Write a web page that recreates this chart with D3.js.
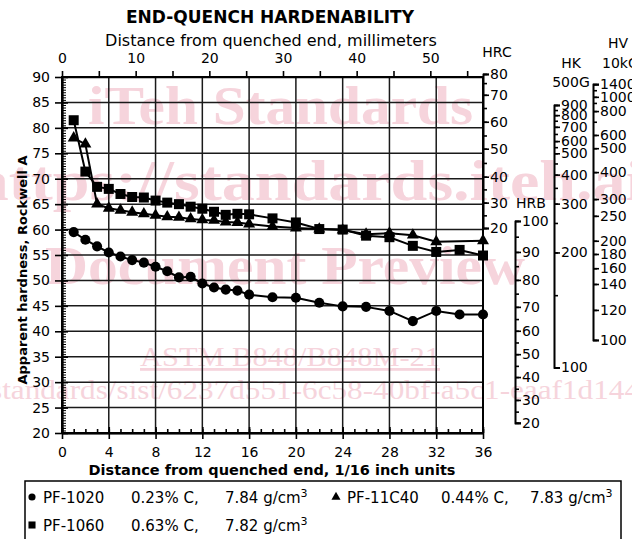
<!DOCTYPE html>
<html>
<head>
<meta charset="utf-8">
<script src="https://cdn.jsdelivr.net/npm/d3@7"></script>
<style>
  body { margin: 0; background: #fff; }
  svg { display: block; font-family: 'DejaVu Sans', Verdana, sans-serif; }
</style>
</head>
<body>
<script>
// distances in 1/16 inch, hardness in HRA
const distances = [1, 2, 3, 4, 5, 6, 7, 8, 9, 10, 11, 12, 13, 14, 15, 16, 18, 20, 22, 24, 26, 28, 30, 32, 34, 36];
const pf1020 = [59.5, 58.0, 56.7, 55.5, 54.7, 54.0, 53.5, 52.7, 51.8, 50.6, 50.7, 49.4, 48.6, 48.2, 48.0, 47.2, 46.7, 46.6, 45.6, 44.9, 44.8, 44.0, 42.0, 44.0, 43.3, 43.3];
const pf1060 = [81.5, 71.4, 68.4, 68.0, 67.0, 66.4, 66.3, 65.7, 65.3, 65.0, 64.5, 64.1, 63.5, 62.9, 63.1, 63.0, 62.2, 61.4, 60.1, 60.0, 58.8, 58.5, 56.8, 55.6, 56.0, 54.9];
const distances11C40 = [1, 2, 3, 4, 5, 6, 7, 8, 9, 10, 11, 12, 13, 14, 15, 16, 18, 20, 22, 24, 26, 28, 30, 32, 36];
const pf11c40 = [78.0, 76.8, 65.0, 64.2, 63.8, 63.4, 63.1, 62.8, 62.5, 62.4, 62.1, 61.9, 61.8, 61.5, 61.4, 61.1, 60.6, 60.3, 60.1, 59.9, 59.1, 59.3, 58.9, 57.6, 57.8];

// legend
const legendNames = ['PF-1020', 'PF-11C40', 'PF-1060'];
const legendCarbon = ['0.23% C,', '0.44% C,', '0.63% C,'];
const legendDensity = ['7.84', '7.83', '7.82'];

// conversion scales: tick values and the HRA level they sit at
const hrcTicks = [80, 75, 70, 65, 60, 55, 50, 45, 40, 35, 30, 25, 20];
const hrcAsHRA = [90.6, 88.8, 86.5, 83.9, 81.2, 78.5, 75.9, 73.1, 70.4, 67.9, 65.3, 62.8, 60.3];
const hrbTicks = [100, 95, 90, 85, 80, 75, 70, 65, 60, 55, 50, 45, 40, 35, 30, 25, 20];
const hrbAsHRA = [61.7, 58.6, 55.6, 52.8, 50.1, 47.4, 44.8, 42.4, 40.1, 37.8, 35.5, 33.2, 31.0, 28.7, 26.5, 24.2, 22.0];
const hkTicks = [900, 850, 800, 750, 700, 650, 600, 550, 500, 450, 400, 350, 300, 250, 200, 150, 100];
const hkAsHRA = [84.5, 83.5, 82.5, 81.4, 80.2, 78.8, 77.4, 76.2, 75.0, 73.0, 70.8, 68.2, 65.1, 61.3, 55.5, 47.1, 32.9];
const hkLabels = [900, 800, 700, 600, 500, 400, 300, 200, 100];
const hvTicks = [1400, 1200, 1000, 900, 800, 700, 600, 500, 400, 300, 250, 200, 180, 160, 140, 120, 100];
const hvAsHRA = [88.6, 87.4, 86.1, 84.9, 83.3, 81.2, 78.6, 76.0, 71.3, 66.0, 62.7, 57.8, 55.2, 52.4, 49.3, 44.2, 38.3];
const hvLabels = [1400, 1000, 800, 600, 500, 400, 300, 250, 200, 180, 160, 140, 120, 100];

const width = 632;
const height = 539;
const plot = { left: 62, right: 483, top: 77, bottom: 433 };

const svg = d3.select('body').append('svg')
  .attr('width', width)
  .attr('height', height);

const x = d3.scaleLinear().domain([0, 36]).range([plot.left, plot.right]);
const y = d3.scaleLinear().domain([20, 90]).range([plot.bottom, plot.top]);
const xmm = d3.scaleLinear().domain([0, 36 * 25.4 / 16]).range([plot.left, plot.right]);

// watermark from the source document
const wm = svg.append('g')
  .attr('fill', '#f6d4dc')
  .attr('font-family', "'Liberation Serif', 'DejaVu Serif', serif");
wm.append('text').attr('x', 88).attr('y', 124).attr('font-size', 54).attr('font-weight', 'bold')
  .attr('textLength', 385).attr('lengthAdjust', 'spacingAndGlyphs').text('iTeh Standards');
wm.append('text').attr('x', -28).attr('y', 200).attr('font-size', 56).attr('font-weight', 'bold')
  .attr('textLength', 672).attr('lengthAdjust', 'spacingAndGlyphs').text('https://standards.iteh.ai');
wm.append('text').attr('x', 45).attr('y', 284).attr('font-size', 54).attr('font-weight', 'bold')
  .attr('textLength', 480).attr('lengthAdjust', 'spacingAndGlyphs').text('Document Preview');
wm.append('text').attr('x', 140).attr('y', 366).attr('font-size', 28)
  .attr('text-decoration', 'underline')
  .attr('textLength', 300).attr('lengthAdjust', 'spacingAndGlyphs').text('ASTM B848/B848M-21');
wm.append('text').attr('x', -10).attr('y', 399).attr('font-size', 28)
  .attr('textLength', 650).attr('lengthAdjust', 'spacingAndGlyphs')
  .text('standards/sist/6237d551-6c58-40bf-a5c1-eaaf1d144');

// grid
svg.append('g')
  .selectAll('line')
  .data(d3.range(4, 36, 4))
  .join('line')
  .attr('x1', d => x(d)).attr('x2', d => x(d))
  .attr('y1', plot.top).attr('y2', plot.bottom)
  .attr('stroke', '#1a1a1a').attr('stroke-width', 1.5);
svg.append('g')
  .selectAll('line')
  .data(d3.range(25, 90, 5))
  .join('line')
  .attr('x1', plot.left).attr('x2', plot.right)
  .attr('y1', d => y(d)).attr('y2', d => y(d))
  .attr('stroke', '#1a1a1a').attr('stroke-width', 1.5);

svg.append('rect')
  .attr('x', plot.left).attr('y', plot.top)
  .attr('width', plot.right - plot.left).attr('height', plot.bottom - plot.top)
  .attr('fill', 'none').attr('stroke', '#000').attr('stroke-width', 2);

const styleAxis = g => {
  g.attr('font-family', null).attr('font-size', 14);
  g.selectAll('path, line').attr('stroke', '#000').attr('stroke-width', 1.6);
  g.selectAll('text').attr('fill', '#000');
};
const dropText = g => g.selectAll('text').remove();

// left HRA axis: cross ticks every 5, fine ruler ticks inside
svg.append('g').attr('transform', `translate(${plot.left},0)`)
  .call(d3.axisLeft(y).tickValues(d3.range(20, 91, 5)).tickSize(7).tickSizeOuter(0).tickPadding(5))
  .call(styleAxis);
svg.append('g').attr('transform', `translate(${plot.left},0)`)
  .call(d3.axisRight(y).tickValues(d3.range(20, 91, 5)).tickSize(6).tickSizeOuter(0))
  .call(styleAxis).call(dropText);
svg.append('g').attr('transform', `translate(${plot.left},0)`)
  .call(d3.axisRight(y).tickValues(d3.range(20, 90.1, 0.5)).tickSize(4).tickSizeOuter(0))
  .call(styleAxis).call(dropText)
  .call(g => g.selectAll('line').attr('stroke-width', 1));

// bottom axis in 1/16 inch
svg.append('g').attr('transform', `translate(0,${plot.bottom})`)
  .call(d3.axisBottom(x).tickValues(d3.range(0, 37, 4)).tickSize(6).tickSizeOuter(0).tickPadding(8))
  .call(styleAxis);
svg.append('g').attr('transform', `translate(0,${plot.bottom})`)
  .call(d3.axisTop(x).tickValues(d3.range(0, 37, 4)).tickSize(6).tickSizeOuter(0))
  .call(styleAxis).call(dropText);
svg.append('g').attr('transform', `translate(0,${plot.bottom})`)
  .call(d3.axisTop(x).tickValues(d3.range(0, 37, 1)).tickSize(4).tickSizeOuter(0))
  .call(styleAxis).call(dropText);

// top axis in millimeters
svg.append('g').attr('transform', `translate(0,${plot.top})`)
  .call(d3.axisTop(xmm).tickValues(d3.range(0, 56, 5)).tickSize(6).tickSizeOuter(0).tickPadding(8)
    .tickFormat(d => d % 10 === 0 ? d : ''))
  .call(styleAxis)
  .call(g => g.selectAll('text').filter(function () { return this.textContent === ''; }).remove());

// conversion axes on the right
const convAxis = (xPos, ticks, asHRA, labels) => {
  const scale = d3.scaleLinear().domain(ticks).range(asHRA.map(y));
  svg.append('g').attr('transform', `translate(${xPos},0)`)
    .call(d3.axisRight(scale).tickValues(ticks).tickSize(4).tickSizeOuter(6))
    .call(styleAxis).call(dropText);
  svg.append('g').attr('transform', `translate(${xPos},0)`)
    .call(d3.axisRight(scale).tickValues(labels).tickSize(6).tickSizeOuter(6).tickPadding(1)
      .tickFormat(d3.format('d')))
    .call(styleAxis);
};
convAxis(plot.right, hrcTicks, hrcAsHRA, hrcTicks.filter(d => d % 10 === 0));
convAxis(515, hrbTicks, hrbAsHRA, hrbTicks.filter(d => d % 10 === 0));
convAxis(554, hkTicks, hkAsHRA, hkLabels);
convAxis(593, hvTicks, hvAsHRA, hvLabels);

const labelText = (tx, ty, txt, opts = {}) => svg.append('text')
  .attr('x', tx).attr('y', ty)
  .attr('text-anchor', opts.anchor || 'middle')
  .attr('font-size', opts.size || 14)
  .attr('font-weight', opts.weight || 'normal')
  .text(txt);

labelText(497, 57, 'HRC');
labelText(531, 208, 'HRB');
labelText(571, 68, 'HK');
labelText(571, 87, '500G');
labelText(618, 48, 'HV');
labelText(602, 68, '10kG', { anchor: 'start' });

// titles
labelText(270, 23, 'END-QUENCH HARDENABILITY', { size: 17, weight: 'bold' });
labelText(271, 46, 'Distance from quenched end, millimeters', { size: 16 });
labelText(272, 475, 'Distance from quenched end, 1/16 inch units', { size: 14.5, weight: 'bold' });
svg.append('text')
  .attr('transform', 'translate(27,270) rotate(-90)')
  .attr('text-anchor', 'middle')
  .attr('font-size', 13)
  .attr('font-weight', 'bold')
  .text('Apparent hardness, Rockwell A');

// series
const series = [
  { xs: distances, ys: pf1020, symbol: d3.symbolCircle, size: 80 },
  { xs: distances11C40, ys: pf11c40, symbol: d3.symbolTriangle, size: 62 },
  { xs: distances, ys: pf1060, symbol: d3.symbolSquare, size: 100 }
];
const line = d3.line().x(d => x(d[0])).y(d => y(d[1]));

series.forEach(s => {
  const pts = s.xs.map((d, i) => [d, s.ys[i]]);
  svg.append('path')
    .attr('d', line(pts))
    .attr('fill', 'none')
    .attr('stroke', '#000')
    .attr('stroke-width', 2);
  svg.append('g')
    .selectAll('path')
    .data(pts)
    .join('path')
    .attr('transform', d => `translate(${x(d[0])},${y(d[1])})`)
    .attr('d', d3.symbol(s.symbol, s.size))
    .attr('fill', '#000');
});

// legend
svg.append('rect')
  .attr('x', 25).attr('y', 481).attr('width', 596).attr('height', 70)
  .attr('fill', 'none').attr('stroke', '#000').attr('stroke-width', 1.5);

const legendItems = [
  { mx: 32, my: 497, nameX: 43, carbonX: 131, densX: 225, symbol: d3.symbolCircle, size: 40 },
  { mx: 336, my: 497, nameX: 347, carbonX: 441, densX: 530, symbol: d3.symbolTriangle, size: 36 },
  { mx: 32, my: 525, nameX: 43, carbonX: 131, densX: 225, symbol: d3.symbolSquare, size: 50 }
];
legendItems.forEach((it, i) => {
  svg.append('path')
    .attr('transform', `translate(${it.mx},${it.my})`)
    .attr('d', d3.symbol(it.symbol, it.size))
    .attr('fill', '#000');
  const g = svg.append('g').attr('font-size', 15);
  g.append('text').attr('x', it.nameX).attr('y', it.my + 6).text(legendNames[i]);
  g.append('text').attr('x', it.carbonX).attr('y', it.my + 6).text(legendCarbon[i]);
  const dens = g.append('text').attr('x', it.densX).attr('y', it.my + 6);
  dens.append('tspan').text(`${legendDensity[i]} g/cm`);
  dens.append('tspan').attr('dy', -6).attr('font-size', 11).text('3');
});
</script>
</body>
</html>
